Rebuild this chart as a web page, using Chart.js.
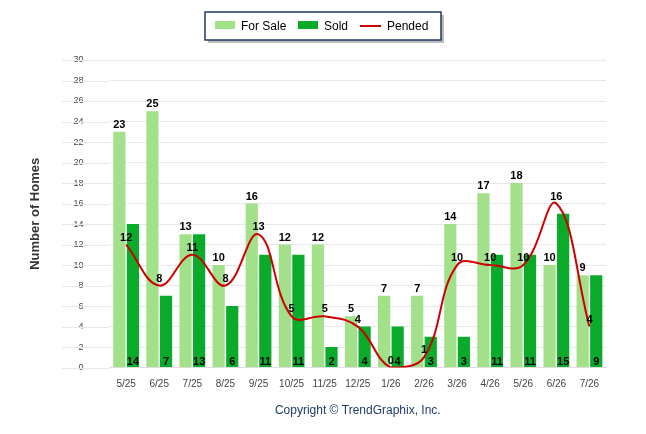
<!DOCTYPE html>
<html><head><meta charset="utf-8">
<script src="https://cdn.jsdelivr.net/npm/chart.js@4"></script>
<style>body{margin:0;background:#fff}#w{width:646px;height:434px}</style>
</head><body><div id="w"><canvas id="c"></canvas></div>
<script>
const months = ['5/25','6/25','7/25','8/25','9/25','10/25','11/25','12/25','1/26','2/26','3/26','4/26','5/26','6/26','7/26'];
const forSale = [23,25,13,10,16,12,12,5,7,7,14,17,18,10,9];
const sold = [14,7,13,6,11,11,2,4,4,3,3,11,11,15,9];
const pended = [12,8,11,8,13,5,5,4,0,1,10,10,10,16,4];

// value labels: for sale on top, sold at the bottom, pended above point
const labels = {
  id: 'labels',
  afterDatasetsDraw(chart) {
    const ctx = chart.ctx;
    ctx.save();
    ctx.font = 'bold 11px Arial, "Liberation Sans"';
    ctx.fillStyle = '#000';
    ctx.textAlign = 'center';
    const y0 = chart.scales.y.getPixelForValue(0);
    chart.getDatasetMeta(0).data.forEach((b, i) => ctx.fillText(forSale[i], b.x, b.y - 4));
    chart.getDatasetMeta(1).data.forEach((b, i) => ctx.fillText(sold[i], b.x, y0 - 3));
    chart.getDatasetMeta(2).data.forEach((p, i) => ctx.fillText(pended[i], p.x, p.y - 4));
    ctx.restore();
  }
};

// boxed legend at the top, grid lines stretched left
const legendBox = {
  id: 'legendBox',
  beforeDatasetsDraw(chart) {
    const ctx = chart.ctx, y = chart.scales.y;
    ctx.save();
    ctx.strokeStyle = '#e8e8e8'; ctx.lineWidth = 1;
    y.ticks.forEach(t => {
      const py = Math.round(y.getPixelForValue(t.value)) + 0.5;
      ctx.beginPath(); ctx.moveTo(62, py); ctx.lineTo(chart.chartArea.left, py); ctx.stroke();
    });
    ctx.restore();
  },
  afterDraw(chart) {
    const ctx = chart.ctx;
    ctx.save();
    ctx.fillStyle = '#bbb';
    ctx.fillRect(208, 15, 236, 28);
    ctx.fillStyle = '#fff';
    ctx.fillRect(205, 12, 236, 28);
    ctx.strokeStyle = '#1f3864';
    ctx.lineWidth = 1.5;
    ctx.strokeRect(205, 12, 236, 28);
    ctx.font = '12px Arial, "Liberation Sans"';
    ctx.textBaseline = 'middle';
    ctx.fillStyle = '#a3e08a'; ctx.fillRect(215, 21, 20, 8);
    ctx.fillStyle = '#0aab2a'; ctx.fillRect(298, 21, 20, 8);
    ctx.strokeStyle = '#cc0000'; ctx.lineWidth = 2;
    ctx.beginPath(); ctx.moveTo(360, 26); ctx.lineTo(381, 26); ctx.stroke();
    ctx.fillStyle = '#000';
    ctx.fillText('For Sale', 241, 27);
    ctx.fillText('Sold', 324, 27);
    ctx.fillText('Pended', 387, 27);
    ctx.restore();
  }
};

new Chart(document.getElementById('c'), {
  data: {
    labels: months,
    datasets: [
      { type: 'bar', label: 'For Sale', data: forSale, backgroundColor: '#a3e08a', order: 2,
        barPercentage: 0.9, categoryPercentage: 0.82 },
      { type: 'bar', label: 'Sold', data: sold, backgroundColor: '#0aab2a', order: 2,
        barPercentage: 0.9, categoryPercentage: 0.82 },
      { type: 'line', label: 'Pended', data: pended, borderColor: '#cc0000', borderWidth: 2,
        pointRadius: 0, tension: 0.4, order: 1 }
    ]
  },
  options: {
    responsive: true, maintainAspectRatio: false, animation: false,
    layout: { padding: { top: 60, right: 40, left: 24, bottom: 12 } },
    plugins: { legend: { display: false }, tooltip: { enabled: false } },
    scales: {
      x: {
        grid: { display: false },
        border: { color: '#ddd' },
        ticks: { color: '#444', font: { size: 10, family: 'Arial' } },
        title: { display: true, text: 'Copyright © TrendGraphix, Inc.', color: '#1f3a6b',
                 font: { size: 12, family: 'Arial' }, padding: { top: 10 } }
      },
      y: {
        min: 0, max: 30,
        ticks: { stepSize: 2, color: '#444', font: { size: 9, family: 'Arial' }, padding: 26 },
        grid: { color: '#e8e8e8', drawTicks: false },
        border: { display: false },
        title: { display: true, text: 'Number of Homes', color: '#333',
                 font: { size: 13, weight: 'bold', family: 'Arial' } }
      }
    }
  },
  plugins: [labels, legendBox]
});
</script></body></html>
